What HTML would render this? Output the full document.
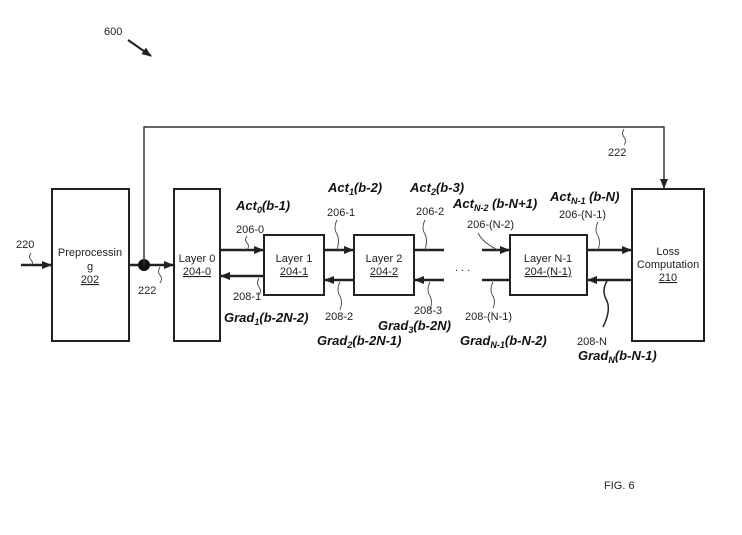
<!DOCTYPE html>
<html><head><meta charset="utf-8"><style>
html,body{margin:0;padding:0;background:#fff;}
svg{display:block;font-family:"Liberation Sans",Arial,sans-serif;}
.n{font-size:11px;fill:#222;}
.b{font-size:13px;font-weight:bold;font-style:italic;fill:#111;}
.s{font-size:9px;}
.box{fill:#fff;stroke:#222;stroke-width:2;}
.ln{stroke:#222;stroke-width:2.5;fill:none;}
.th{stroke:#333;stroke-width:1.5;fill:none;}
.sq{stroke:#444;stroke-width:0.9;fill:none;}
</style></head><body>
<svg width="742" height="535" viewBox="0 0 742 535" xmlns="http://www.w3.org/2000/svg">
<defs>
<marker id="a" markerWidth="10" markerHeight="8" refX="9" refY="4" orient="auto" markerUnits="userSpaceOnUse"><path d="M0,0 L10,4 L0,8 z" fill="#222"/></marker>
</defs>
<!-- 600 -->
<text x="104" y="35" class="n">600</text>
<line x1="128" y1="40" x2="151" y2="56" stroke="#222" stroke-width="2" marker-end="url(#a)"/>
<!-- boxes -->
<rect x="52" y="189" width="77" height="152" class="box"/>
<rect x="174" y="189" width="46" height="152" class="box"/>
<rect x="264" y="235" width="60" height="60" class="box"/>
<rect x="354" y="235" width="60" height="60" class="box"/>
<rect x="510" y="235" width="77" height="60" class="box"/>
<rect x="632" y="189" width="72" height="152" class="box"/>
<!-- box text -->
<text x="90" y="256" class="n" text-anchor="middle">Preprocessin</text>
<text x="90" y="270" class="n" text-anchor="middle">g</text>
<text x="90" y="283" class="n" text-anchor="middle" text-decoration="underline">202</text>
<text x="197" y="262" class="n" text-anchor="middle">Layer 0</text>
<text x="197" y="275" class="n" text-anchor="middle" text-decoration="underline">204-0</text>
<text x="294" y="262" class="n" text-anchor="middle">Layer 1</text>
<text x="294" y="275" class="n" text-anchor="middle" text-decoration="underline">204-1</text>
<text x="384" y="262" class="n" text-anchor="middle">Layer 2</text>
<text x="384" y="275" class="n" text-anchor="middle" text-decoration="underline">204-2</text>
<text x="548" y="262" class="n" text-anchor="middle">Layer N-1</text>
<text x="548" y="275" class="n" text-anchor="middle" text-decoration="underline">204-(N-1)</text>
<text x="668" y="255" class="n" text-anchor="middle">Loss</text>
<text x="668" y="268" class="n" text-anchor="middle">Computation</text>
<text x="668" y="281" class="n" text-anchor="middle" text-decoration="underline">210</text>
<!-- input and feedback -->
<line x1="21" y1="265" x2="51" y2="265" class="ln" marker-end="url(#a)"/>
<path d="M31,253 q-3,4 0,7 q3,3 0,5" class="sq"/>
<text x="16" y="248" class="n">220</text>
<line x1="129" y1="265" x2="173" y2="265" class="ln" marker-end="url(#a)"/>
<circle cx="144" cy="265" r="6" fill="#111"/>
<path d="M160,267 q-3,5 0,8 q3,4 0,8" class="sq"/>
<text x="138" y="294" class="n">222</text>
<path d="M144,265 V127 H664 V188" class="th" marker-end="url(#a)"/>
<path d="M624,129 q-3,5 0,8 q3,4 0,8" class="sq"/>
<text x="608" y="156" class="n">222</text>
<!-- act lines -->
<line x1="220" y1="250" x2="263" y2="250" class="ln" marker-end="url(#a)"/>
<line x1="324" y1="250" x2="353" y2="250" class="ln" marker-end="url(#a)"/>
<line x1="414" y1="250" x2="444" y2="250" class="ln"/>
<line x1="482" y1="250" x2="509" y2="250" class="ln" marker-end="url(#a)"/>
<line x1="587" y1="250" x2="631" y2="250" class="ln" marker-end="url(#a)"/>
<!-- grad lines -->
<line x1="264" y1="276" x2="221" y2="276" class="ln" marker-end="url(#a)"/>
<line x1="354" y1="280" x2="325" y2="280" class="ln" marker-end="url(#a)"/>
<line x1="444" y1="280" x2="415" y2="280" class="ln" marker-end="url(#a)"/>
<line x1="510" y1="280" x2="482" y2="280" class="ln"/>
<line x1="632" y1="280" x2="588" y2="280" class="ln" marker-end="url(#a)"/>
<text x="455" y="271" class="n" font-size="9">. . .</text>
<!-- act labels -->
<text x="236" y="210" class="b">Act<tspan class="s" dy="3">0</tspan><tspan dy="-3">(b-1)</tspan></text>
<text x="236" y="233" class="n">206-0</text>
<path d="M247,236 q-3,4 0,7 q3,3 0,7" class="sq"/>
<text x="328" y="192" class="b">Act<tspan class="s" dy="3">1</tspan><tspan dy="-3">(b-2)</tspan></text>
<text x="327" y="216" class="n">206-1</text>
<path d="M337,220 q-4,8 0,14 q3,6 0,16" class="sq"/>
<text x="410" y="192" class="b">Act<tspan class="s" dy="3">2</tspan><tspan dy="-3">(b-3)</tspan></text>
<text x="416" y="215" class="n">206-2</text>
<path d="M425,220 q-4,8 0,14 q3,6 0,16" class="sq"/>
<text x="453" y="208" class="b">Act<tspan class="s" dy="3">N-2</tspan><tspan dy="-3"> (b-N+1)</tspan></text>
<text x="467" y="228" class="n">206-(N-2)</text>
<path d="M478,233 q5,10 20,17" class="sq"/>
<text x="550" y="201" class="b">Act<tspan class="s" dy="3">N-1</tspan><tspan dy="-3"> (b-N)</tspan></text>
<text x="559" y="218" class="n">206-(N-1)</text>
<path d="M598,222 q-4,8 0,14 q3,6 0,14" class="sq"/>
<!-- grad labels -->
<text x="233" y="300" class="n">208-1</text>
<path d="M259,278 q-3,5 0,9 q3,4 0,8" class="sq"/>
<text x="224" y="322" class="b">Grad<tspan class="s" dy="3">1</tspan><tspan dy="-3">(b-2N-2)</tspan></text>
<text x="325" y="320" class="n">208-2</text>
<path d="M340,282 q-4,8 0,14 q3,6 0,14" class="sq"/>
<text x="317" y="345" class="b">Grad<tspan class="s" dy="3">2</tspan><tspan dy="-3">(b-2N-1)</tspan></text>
<text x="414" y="314" class="n">208-3</text>
<path d="M430,282 q-4,8 0,14 q3,6 0,13" class="sq"/>
<text x="378" y="330" class="b">Grad<tspan class="s" dy="3">3</tspan><tspan dy="-3">(b-2N)</tspan></text>
<text x="465" y="320" class="n">208-(N-1)</text>
<path d="M493,282 q-4,8 0,14 q3,6 0,12" class="sq"/>
<text x="460" y="345" class="b">Grad<tspan class="s" dy="3">N-1</tspan><tspan dy="-3">(b-N-2)</tspan></text>
<text x="577" y="345" class="n">208-N</text>
<path d="M607,281 q-6,10 0,20 q4,10 -4,26" stroke="#222" stroke-width="1.5" fill="none"/>
<text x="578" y="360" class="b">Grad<tspan class="s" dy="3">N</tspan><tspan dy="-3">(b-N-1)</tspan></text>
<text x="604" y="489" class="n">FIG. 6</text>
</svg>
</body></html>
